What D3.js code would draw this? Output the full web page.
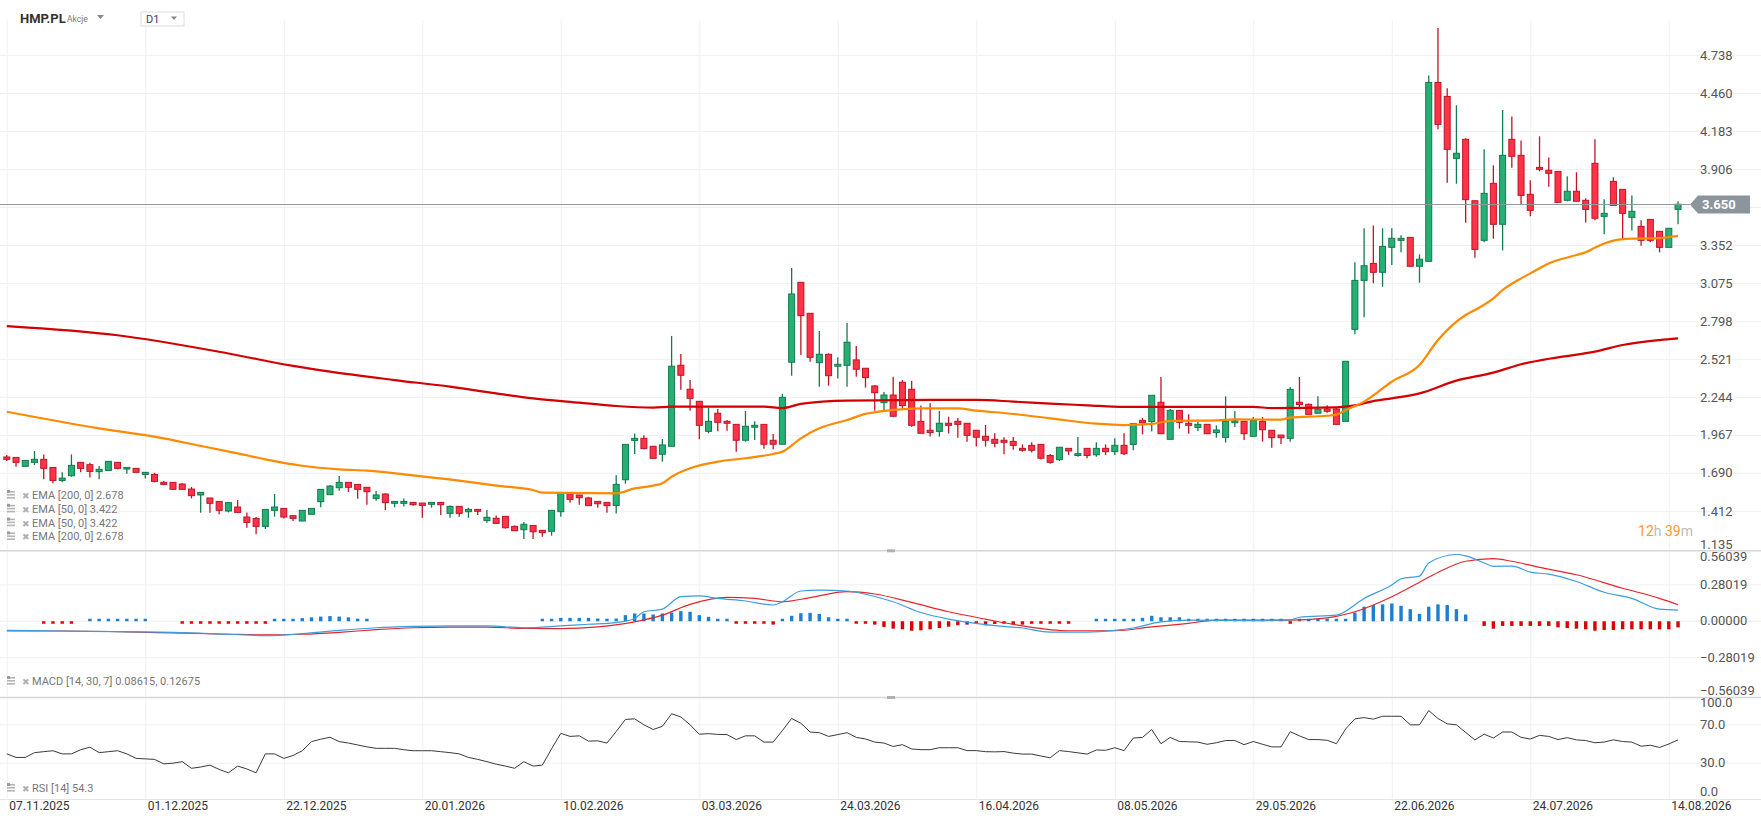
<!DOCTYPE html>
<html>
<head>
<meta charset="utf-8">
<script src="https://cdn.jsdelivr.net/npm/d3@7"></script>
<style>
  html, body { margin: 0; padding: 0; background: #fff; }
  svg { display: block; font-family: Roboto, "Open Sans", sans-serif; }
</style>
</head>
<body>
<svg id="chart" width="1761" height="821"></svg>
<script>

// x axis: one label every 15 candles
const dateLabels = ["07.11.2025", "01.12.2025", "22.12.2025", "20.01.2026", "10.02.2026", "03.03.2026",
  "24.03.2026", "16.04.2026", "08.05.2026", "29.05.2026", "22.06.2026", "24.07.2026", "14.08.2026"];
const dateLabelIdx = [0, 15, 30, 45, 60, 75, 90, 105, 120, 135, 150, 165, 180];

const priceTicks = [1.135, 1.412, 1.690, 1.967, 2.244, 2.521, 2.798, 3.075, 3.352, 3.629, 3.906, 4.183, 4.460, 4.738];
const macdTicks = [-0.56039, -0.28019, 0, 0.28019, 0.56039];
const rsiTicks = [0, 30, 70, 100];

// daily candles (182)
const open = [1.809,1.806,1.741,1.770,1.792,1.733,1.638,1.672,1.770,1.753,1.702,1.711,1.770,1.721,1.726,1.682,1.682,1.624,1.624,1.612,
  1.575,1.532,1.510,1.485,1.415,1.444,1.371,1.361,1.303,1.420,1.434,1.381,1.342,1.391,1.483,1.534,1.585,1.624,1.609,1.588,
  1.507,1.539,1.471,1.471,1.478,1.473,1.464,1.478,1.398,1.449,1.410,1.427,1.345,1.362,1.376,1.303,1.279,1.310,1.274,1.267,
  1.410,1.544,1.532,1.510,1.485,1.478,1.456,1.643,1.930,1.945,1.887,1.829,1.887,2.478,2.303,2.215,1.996,2.128,2.069,2.047,
  1.931,2.026,2.047,1.931,1.902,2.500,3.083,2.857,2.497,2.558,2.471,2.478,2.517,2.456,2.327,2.205,2.261,2.354,2.303,2.069,
  2.004,1.996,2.055,2.069,2.055,2.004,1.960,1.938,1.931,1.923,1.872,1.894,1.901,1.820,1.790,1.872,1.820,1.872,1.825,1.872,
  1.848,1.894,1.901,2.076,2.067,2.208,1.938,2.149,2.055,2.025,2.047,1.987,1.952,2.059,2.069,1.960,2.069,2.004,1.969,1.945,
  2.208,2.193,2.128,2.159,2.159,2.069,2.740,3.097,3.221,3.156,3.338,3.389,3.411,3.200,3.236,4.541,4.439,3.987,4.126,3.678,
  3.389,3.805,3.506,4.126,4.009,3.725,3.921,3.900,3.892,3.681,3.747,3.681,3.951,3.564,3.819,3.761,3.557,3.491,3.542,3.455,
  3.338,3.615];
const high = [1.823,1.806,1.784,1.852,1.828,1.733,1.697,1.828,1.770,1.767,1.743,1.779,1.770,1.733,1.726,1.699,1.694,1.634,1.624,1.617,
  1.590,1.551,1.510,1.485,1.476,1.495,1.405,1.371,1.427,1.539,1.434,1.381,1.420,1.434,1.573,1.605,1.670,1.624,1.609,1.588,
  1.561,1.544,1.485,1.507,1.478,1.473,1.478,1.478,1.456,1.449,1.439,1.427,1.422,1.383,1.376,1.310,1.335,1.310,1.274,1.420,
  1.544,1.544,1.532,1.519,1.485,1.478,1.675,1.901,1.981,1.967,1.887,1.940,2.692,2.560,2.371,2.215,2.169,2.159,2.079,2.047,
  2.145,2.069,2.047,1.977,2.269,3.188,3.083,2.857,2.728,2.565,2.536,2.787,2.619,2.456,2.334,2.283,2.395,2.371,2.363,2.184,
  2.201,2.145,2.103,2.094,2.055,2.004,2.043,1.982,1.953,1.955,1.901,1.916,1.901,1.830,1.880,1.872,1.955,1.872,1.916,1.901,
  1.945,1.982,2.052,2.094,2.259,2.392,2.159,2.149,2.120,2.067,2.047,2.040,2.252,2.145,2.069,2.101,2.101,2.004,1.969,2.320,
  2.392,2.200,2.252,2.186,2.174,2.509,3.229,3.477,3.498,3.477,3.477,3.426,3.414,3.287,4.592,4.938,4.498,4.374,4.133,3.678,
  4.053,3.936,4.340,4.293,4.118,3.827,4.148,3.994,3.892,3.856,3.885,3.696,4.126,3.688,3.849,3.761,3.717,3.535,3.542,3.455,
  3.477,3.674];
const low = [1.779,1.738,1.741,1.750,1.646,1.617,1.624,1.665,1.697,1.660,1.646,1.707,1.719,1.687,1.697,1.653,1.624,1.602,1.568,1.573,
  1.507,1.403,1.403,1.391,1.405,1.405,1.293,1.245,1.284,1.374,1.361,1.342,1.342,1.391,1.442,1.534,1.563,1.554,1.505,1.461,
  1.490,1.422,1.442,1.447,1.454,1.366,1.439,1.386,1.366,1.374,1.366,1.386,1.330,1.320,1.286,1.269,1.211,1.211,1.228,1.235,
  1.374,1.476,1.461,1.454,1.439,1.403,1.396,1.614,1.831,1.865,1.799,1.775,1.887,2.300,2.147,1.938,1.982,1.996,2.001,1.848,
  1.921,1.933,1.870,1.865,1.902,2.402,2.553,2.504,2.322,2.329,2.381,2.322,2.395,2.315,2.147,2.152,2.103,2.159,2.030,1.982,
  1.958,1.958,1.980,1.950,1.921,1.885,1.885,1.880,1.829,1.862,1.848,1.841,1.790,1.760,1.780,1.824,1.810,1.800,1.810,1.823,
  1.823,1.823,1.858,1.974,1.994,1.979,1.938,2.016,1.979,1.999,1.979,1.950,1.914,2.028,1.933,1.960,1.921,1.877,1.904,1.921,
  2.157,2.120,2.128,2.132,2.047,2.069,2.704,2.828,3.076,3.051,3.209,3.302,3.200,3.080,3.236,4.199,3.810,3.802,3.518,3.263,
  3.375,3.401,3.316,3.919,3.652,3.564,3.892,3.780,3.666,3.674,3.674,3.520,3.535,3.433,3.644,3.401,3.460,3.350,3.375,3.302,
  3.338,3.506];
const close = [1.792,1.770,1.784,1.792,1.726,1.638,1.655,1.748,1.726,1.704,1.719,1.777,1.726,1.733,1.697,1.697,1.631,1.609,1.573,1.573,
  1.527,1.551,1.471,1.420,1.476,1.405,1.332,1.303,1.427,1.444,1.371,1.361,1.420,1.434,1.573,1.597,1.624,1.588,1.573,1.556,
  1.532,1.476,1.485,1.485,1.461,1.456,1.478,1.461,1.449,1.398,1.427,1.413,1.369,1.325,1.293,1.271,1.318,1.264,1.257,1.420,
  1.544,1.500,1.512,1.454,1.468,1.454,1.609,1.901,1.945,1.870,1.799,1.897,2.471,2.405,2.237,2.040,2.069,2.062,2.055,1.931,
  2.033,2.040,1.902,1.902,2.244,2.998,2.840,2.536,2.558,2.402,2.485,2.646,2.449,2.388,2.278,2.261,2.106,2.184,2.040,1.982,
  1.987,2.055,2.040,2.047,1.967,1.953,1.931,1.909,1.916,1.894,1.858,1.858,1.800,1.770,1.880,1.853,1.833,1.820,1.872,1.848,
  1.894,1.833,2.052,2.059,2.259,1.979,2.149,2.062,2.040,2.047,1.979,2.006,2.069,2.072,1.979,2.077,2.008,1.950,1.950,2.302,
  2.191,2.120,2.157,2.142,2.047,2.507,3.097,3.204,3.156,3.345,3.404,3.404,3.200,3.251,4.541,4.235,4.053,4.024,3.686,3.323,
  3.732,3.506,4.009,4.002,3.717,3.608,3.907,3.878,3.666,3.747,3.674,3.615,3.550,3.586,3.644,3.586,3.601,3.389,3.389,3.338,
  3.477,3.652];

// moving averages read at sample candles
const ema50Idx = [0, 10, 16, 21, 25, 28, 32, 36, 39, 44, 49, 53, 57, 58, 66, 68, 70, 71, 72, 74, 77, 80, 83, 84, 86, 88, 91, 93, 96, 99,
  103, 105, 108, 113, 118, 121, 124, 126, 131, 133, 138, 139, 143, 144, 145, 147, 150, 153, 155, 158, 159, 161, 162, 164, 165, 167,
  170, 171, 172, 174, 176, 179, 181];
const ema50 = [2.139, 2.018, 1.957, 1.890, 1.835, 1.792, 1.745, 1.719, 1.709, 1.675, 1.636, 1.600, 1.568, 1.549, 1.544, 1.580, 1.600,
  1.617, 1.665, 1.727, 1.775, 1.800, 1.831, 1.848, 1.945, 2.018, 2.079, 2.123, 2.152, 2.164, 2.164, 2.147, 2.130, 2.091, 2.052, 2.042,
  2.050, 2.072, 2.076, 2.084, 2.081, 2.096, 2.110, 2.118, 2.150, 2.213, 2.358, 2.480, 2.662, 2.845, 2.881, 2.966, 3.027, 3.112, 3.148,
  3.221, 3.282, 3.302, 3.336, 3.387, 3.401, 3.406, 3.422];
const ema200Idx = [0, 12, 24, 31, 35, 42, 48, 53, 57, 62, 66, 70, 72, 82, 84, 86, 91, 100, 105, 109, 113, 117, 121, 135, 137, 144, 146,
  148, 150, 153, 157, 161, 164, 168, 172, 175, 179, 181];
const ema200 = [2.764, 2.697, 2.564, 2.473, 2.431, 2.370, 2.322, 2.273, 2.237, 2.205, 2.181, 2.169, 2.176, 2.176, 2.166, 2.196, 2.220,
  2.225, 2.225, 2.213, 2.198, 2.186, 2.174, 2.174, 2.166, 2.171, 2.185, 2.217, 2.237, 2.273, 2.366, 2.424, 2.485, 2.536, 2.577, 2.626,
  2.662, 2.674];

// MACD [14, 30, 7]
const macdIdx = [0, 6, 12, 18, 24, 28, 32, 36, 40, 44, 48, 52, 56, 60, 63, 66, 68, 69, 71, 73, 75, 77, 80, 83, 84, 86, 88, 91, 93, 96,
  99, 102, 106, 110, 113, 117, 120, 122, 125, 128, 135, 139, 140, 144, 147, 150, 151, 153, 154, 157, 158, 160, 161, 163, 165, 167,
  170, 173, 176, 179, 181];
const macdLine = [-0.070, -0.075, -0.080, -0.085, -0.100, -0.110, -0.095, -0.070, -0.050, -0.040, -0.035, -0.035, -0.050, -0.036,
  -0.023, -0.010, 0.021, 0.073, 0.093, 0.189, 0.195, 0.176, 0.156, 0.125, 0.150, 0.233, 0.239, 0.233, 0.208, 0.150, 0.067, 0.016,
  -0.026, -0.052, -0.083, -0.083, -0.070, -0.052, -0.005, 0.008, 0.005, 0.010, 0.031, 0.047, 0.176, 0.280, 0.327, 0.348, 0.449,
  0.514, 0.503, 0.449, 0.423, 0.425, 0.379, 0.363, 0.306, 0.223, 0.176, 0.093, 0.086];
const signalIdx = [0, 6, 12, 18, 24, 28, 32, 36, 40, 44, 48, 52, 56, 60, 64, 68, 71, 74, 78, 81, 84, 87, 91, 94, 98, 102, 106, 110, 115,
  120, 124, 128, 131, 139, 143, 146, 150, 153, 155, 158, 161, 163, 166, 170, 175, 179, 181];
const signalLine = [-0.075, -0.075, -0.080, -0.090, -0.100, -0.105, -0.100, -0.085, -0.065, -0.050, -0.045, -0.045, -0.055, -0.057,
  -0.044, -0.005, 0.047, 0.130, 0.184, 0.176, 0.150, 0.182, 0.228, 0.210, 0.145, 0.073, 0.016, -0.036, -0.073, -0.073, -0.044,
  -0.016, 0.008, 0.008, 0.026, 0.073, 0.189, 0.301, 0.376, 0.462, 0.482, 0.462, 0.415, 0.358, 0.254, 0.176, 0.127];
const macdHist = [0, 0, 0, 0, -0.004, -0.008, -0.008, -0.004, 0, 0.006,
  0.006, 0.006, 0.006, 0.006, 0.006, 0.006, 0, 0, 0, -0.008,
  -0.008, -0.008, -0.008, -0.008, -0.008, -0.008, -0.008, -0.008, -0.004, 0.006,
  0.012, 0.018, 0.024, 0.030, 0.036, 0.040, 0.036, 0.030, 0.020, 0.010,
  0, 0, 0, 0, 0, 0, 0, 0, 0, 0,
  0, 0, 0, 0, 0, 0, 0, 0, 0.008, 0.016,
  0.026, 0.026, 0.026, 0.026, 0.021, 0.016, 0.021, 0.047, 0.060, 0.060,
  0.052, 0.060, 0.067, 0.078, 0.073, 0.047, 0.034, 0.016, 0.002, -0.010,
  -0.010, -0.013, -0.016, -0.026, 0.008, 0.042, 0.062, 0.065, 0.057, 0.031,
  0.010, 0.005, -0.005, -0.010, -0.026, -0.044, -0.057, -0.062, -0.073, -0.070,
  -0.062, -0.052, -0.042, -0.031, -0.026, -0.021, -0.031, -0.021, -0.018, -0.021,
  -0.026, -0.016, -0.016, -0.013, -0.013, -0.013, 0, 0, 0.005, 0.005,
  0.005, 0.005, 0.013, 0.026, 0.042, 0.031, 0.031, 0.031, 0.016, 0.010,
  0.005, 0.005, 0.005, 0.005, 0.005, 0.005, 0.005, 0.005, 0.005, -0.010,
  0.005, 0.005, 0.008, 0.008, 0.010, 0.010, 0.067, 0.112, 0.125, 0.130,
  0.137, 0.119, 0.093, 0.057, 0.112, 0.130, 0.125, 0.093, 0.052, 0,
  -0.036, -0.057, -0.036, -0.036, -0.036, -0.036, -0.036, -0.036, -0.047, -0.052,
  -0.057, -0.062, -0.073, -0.067, -0.067, -0.062, -0.062, -0.062, -0.062, -0.062,
  -0.062, -0.047];

// RSI [14]
const rsi = [39.7, 36, 36, 41, 42, 43, 39.7, 39.7, 44, 46.7, 41, 42, 43, 39.7, 35, 34.5, 34, 29.3, 30, 31.6,
  24.7, 26, 28, 23.5, 20, 27, 24, 20, 39.7, 39.7, 35, 38, 43, 52.5, 55, 57, 52.5, 51, 49, 47,
  45.5, 45.5, 45.5, 44, 43, 43, 43, 42, 41, 39.7, 36, 34, 31.6, 29, 27, 24.7, 31.6, 27, 28, 45,
  61.1, 57.9, 58.5, 53, 53.3, 51, 63, 75.6, 76.2, 70, 65.1, 68.4, 81.5, 78.2, 70, 60.2, 60.8, 60, 59.8, 54.6,
  58.5, 58.5, 52, 52, 64, 76.6, 71.6, 62.5, 61.8, 57.9, 59.8, 61.8, 56.9, 55.2, 52, 51, 47.4, 49.3, 44.8, 44.1,
  44.1, 46.1, 46.1, 46.1, 43.1, 43.1, 42, 41.8, 42.1, 40.5, 39.5, 39.5, 37.5, 35.6, 43.1, 42.1, 40.8, 39.5, 43.8, 43.4,
  46.1, 43.1, 56.2, 56.9, 65.1, 50.3, 56.9, 52.6, 52.3, 52, 49.7, 51.3, 53.6, 53.6, 49.3, 52.6, 49.7, 47, 47, 62.8,
  58.5, 54.6, 54.6, 53.9, 50.3, 65.7, 76.2, 77.5, 75.9, 78.9, 78.9, 78.9, 70, 70, 84.8, 76.6, 71, 70, 62, 54.3,
  60.2, 56.2, 62.5, 62.5, 56.9, 55.2, 59, 57.9, 54.6, 56.6, 54.3, 53.6, 51.3, 52, 54.3, 52.6, 52, 47.7, 48.7, 46.4,
  50, 54.3];

const lastPrice = 3.650;

const svg = d3.select("#chart");
const W = 1761;

const x = d3.scaleLinear().domain([0, 180]).range([6.8, 1668.8]);
const yP = d3.scaleLinear().domain([1.135, 4.738]).range([549.4, 55.4]);
const yM = d3.scaleLinear().domain([-0.56039, 0.56039]).range([694, 548.5]);
const yR = d3.scaleLinear().domain([0, 100]).range([792, 696]);

const gridColor = "#f0f0f0";

// horizontal grid lines
svg.append("g").selectAll("line").data(priceTicks.slice(1)).join("line")
  .attr("x1", 0).attr("x2", W).attr("y1", d => yP(d)).attr("y2", d => yP(d))
  .attr("stroke", gridColor);
svg.append("g").selectAll("line").data([-0.28019, 0, 0.28019]).join("line")
  .attr("x1", 0).attr("x2", W).attr("y1", d => yM(d)).attr("y2", d => yM(d))
  .attr("stroke", gridColor);
svg.append("g").selectAll("line").data([30, 70]).join("line")
  .attr("x1", 0).attr("x2", W).attr("y1", d => yR(d)).attr("y2", d => yR(d))
  .attr("stroke", gridColor);

// vertical grid + date labels
const xAxis = svg.append("g").attr("transform", "translate(0,799)")
  .call(d3.axisBottom(x).tickValues(dateLabelIdx).tickFormat((d, i) => dateLabels[i])
    .tickSizeInner(-779).tickSizeOuter(0).tickPadding(2));
xAxis.select(".domain").remove();
xAxis.selectAll("line").attr("stroke", gridColor);
xAxis.selectAll("text").attr("text-anchor", "start").attr("dx", 2)
  .attr("fill", "#333").attr("font-size", 12).attr("font-family", "Roboto, sans-serif");

// pane separators
svg.append("g").selectAll("line").data([550.8, 697.5]).join("line")
  .attr("x1", 0).attr("x2", W).attr("y1", d => d).attr("y2", d => d)
  .attr("stroke", "#d6d6d6").attr("stroke-width", 1.5);
svg.append("line").attr("x1", 0).attr("x2", W).attr("y1", 799.5).attr("y2", 799.5)
  .attr("stroke", "#e6e6e6");
svg.append("g").selectAll("rect").data([550.8, 697.5]).join("rect")
  .attr("x", 887).attr("y", d => d - 1.5).attr("width", 8).attr("height", 3).attr("fill", "#b0b0b0");

// clip the plot area
svg.append("clipPath").attr("id", "plotclip")
  .append("rect").attr("x", 0).attr("y", 20).attr("width", 1690).attr("height", 780);

const plot = svg.append("g").attr("clip-path", "url(#plotclip)");

// candles
const candles = d3.range(open.length).map(i => ({ i, o: open[i], h: high[i], l: low[i], c: close[i] }));
const upFill = "#26b075", upLine = "#127a4c", dnFill = "#ff3347", dnLine = "#bd1528";
const bw = 6;

const cg = plot.append("g").selectAll("g").data(candles).join("g");
cg.append("line")
  .attr("x1", d => x(d.i)).attr("x2", d => x(d.i))
  .attr("y1", d => yP(d.h)).attr("y2", d => yP(d.l))
  .attr("stroke", d => d.c >= d.o ? upLine : dnLine).attr("stroke-width", 1.3);
cg.append("rect")
  .attr("x", d => x(d.i) - bw / 2)
  .attr("y", d => yP(Math.max(d.o, d.c)))
  .attr("width", bw)
  .attr("height", d => Math.max(1.5, Math.abs(yP(d.o) - yP(d.c))))
  .attr("fill", d => d.c >= d.o ? upFill : dnFill)
  .attr("stroke", d => d.c >= d.o ? upLine : dnLine).attr("stroke-width", 1);

// EMA lines
const lineP = d3.line().x(d => x(d[0])).y(d => yP(d[1])).curve(d3.curveMonotoneX);
plot.append("path").datum(d3.zip(ema200Idx, ema200)).attr("d", lineP)
  .attr("fill", "none").attr("stroke", "#d20000").attr("stroke-width", 2.2);
plot.append("path").datum(d3.zip(ema50Idx, ema50)).attr("d", lineP)
  .attr("fill", "none").attr("stroke", "#ff8a00").attr("stroke-width", 2.2);

// last price line
plot.append("line").attr("x1", 0).attr("x2", 1690)
  .attr("y1", yP(lastPrice)).attr("y2", yP(lastPrice))
  .attr("stroke", "#8e979c").attr("stroke-width", 1);

// MACD histogram (zero bars are not drawn)
plot.append("g").selectAll("rect").data(macdHist).join("rect")
  .attr("x", (d, i) => x(i) - 1.7)
  .attr("width", 3.4)
  .attr("y", d => d >= 0 ? Math.min(yM(d), yM(0) - 2.5) : yM(0))
  .attr("height", d => d === 0 ? 0 : Math.max(2.5, Math.abs(yM(d) - yM(0))))
  .attr("fill", d => d >= 0 ? "#1d7fd0" : "#dc0000");

const lineM = d3.line().x(d => x(d[0])).y(d => yM(d[1])).curve(d3.curveMonotoneX);
plot.append("path").datum(d3.zip(signalIdx, signalLine)).attr("d", lineM)
  .attr("fill", "none").attr("stroke", "#e3262b").attr("stroke-width", 1.2);
plot.append("path").datum(d3.zip(macdIdx, macdLine)).attr("d", lineM)
  .attr("fill", "none").attr("stroke", "#3a9de0").attr("stroke-width", 1.2);

// RSI
plot.append("path").datum(rsi)
  .attr("d", d3.line().x((d, i) => x(i)).y(d => yR(d)))
  .attr("fill", "none").attr("stroke", "#3a3a3a").attr("stroke-width", 1);

// right axes
function rightAxis(scale, ticks, fmt, top, bottom) {
  const g = svg.append("g").attr("transform", "translate(1700,0)")
    .call(d3.axisRight(scale).tickValues(ticks).tickFormat(fmt).tickSize(0).tickPadding(0));
  g.select(".domain").remove();
  g.selectAll(".tick").attr("transform", d => {
    const yy = Math.max(top + 6, Math.min(bottom - 6, scale(d)));
    return `translate(0,${yy})`;
  });
  g.selectAll("text").attr("fill", "#555").attr("font-size", 13).attr("font-family", "Roboto, sans-serif");
  return g;
}
rightAxis(yP, priceTicks, d3.format(".3f"), 20, 551);
rightAxis(yM, macdTicks, d3.format(".5f"), 551, 697);
rightAxis(yR, rsiTicks, d3.format(".1f"), 697, 800);

// last price marker
const py = yP(lastPrice);
svg.append("path")
  .attr("d", `M1690,${py} L1698,${py - 9} L1750,${py - 9} L1750,${py + 9} L1698,${py + 9} Z`)
  .attr("fill", "#8c959b");
svg.append("text").attr("x", 1702).attr("y", py + 4.5).text(d3.format(".3f")(lastPrice))
  .attr("fill", "#fff").attr("font-size", 13).attr("font-weight", "bold");

// countdown
const cd = svg.append("text").attr("x", 1693).attr("y", 536).attr("text-anchor", "end")
  .attr("font-size", 14);
cd.append("tspan").text("12").attr("fill", "#ff9b1e");
cd.append("tspan").text("h ").attr("fill", "#bbbbbb");
cd.append("tspan").text("39").attr("fill", "#ff9b1e");
cd.append("tspan").text("m").attr("fill", "#bbbbbb");

// legends
function legend(yy, label) {
  const g = svg.append("g").attr("transform", `translate(7,${yy})`);
  [0, 3, 6].forEach(k => g.append("rect").attr("x", 0).attr("y", -8 + k).attr("width", 8).attr("height", 1.6).attr("fill", "#b5b5b5"));
  g.append("rect").attr("x", 0).attr("y", -9).attr("width", 3).attr("height", 3).attr("fill", "#9a9a9a");
  g.append("text").attr("x", 15).attr("y", 0).text("\u2716").attr("fill", "#b0b0b0").attr("font-size", 9);
  g.append("text").attr("x", 25).attr("y", 0).text(label).attr("fill", "#777").attr("font-size", 11);
}
const emaLegend = ["EMA [200, 0] 2.678", "EMA [50, 0] 3.422", "EMA [50, 0] 3.422", "EMA [200, 0] 2.678"];
emaLegend.forEach((t, k) => legend(499 + k * 13.8, t));
legend(685, "MACD [14, 30, 7] 0.08615, 0.12675");
legend(792, "RSI [14] 54.3");

// header
svg.append("text").attr("x", 20).attr("y", 23).text("HMP.PL")
  .attr("font-size", 13).attr("font-weight", "bold").attr("fill", "#333");
svg.append("text").attr("x", 67).attr("y", 22).text("Akcje")
  .attr("font-size", 8.5).attr("fill", "#777");
svg.append("path").attr("d", "M97,15 L104,15 L100.5,19 Z").attr("fill", "#888");
svg.append("rect").attr("x", 141).attr("y", 12).attr("width", 43).attr("height", 14)
  .attr("fill", "#fff").attr("stroke", "#dcdcdc");
svg.append("text").attr("x", 146).attr("y", 23).text("D1").attr("font-size", 11).attr("fill", "#444");
svg.append("path").attr("d", "M171,16.5 L177,16.5 L174,20 Z").attr("fill", "#888");

</script>
</body>
</html>
